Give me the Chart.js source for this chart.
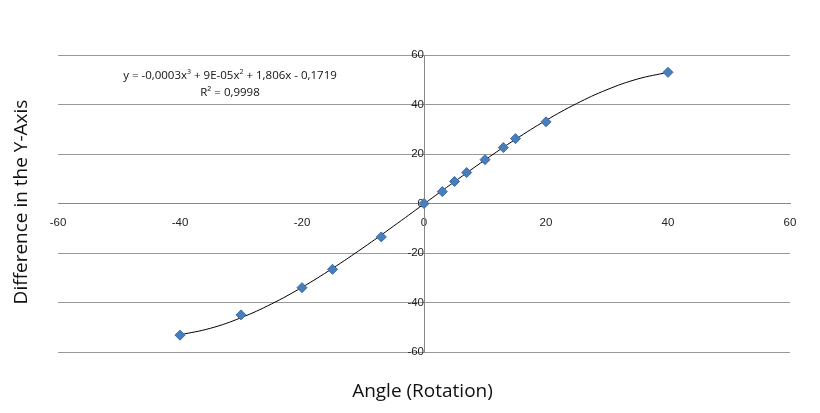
<!DOCTYPE html>
<html><head><meta charset="utf-8">
<script src="https://cdn.jsdelivr.net/npm/chart.js@4"></script>
<style>
body{margin:0;background:#fff;font-family:"Open Sans",Calibri,sans-serif}
#w{position:relative;width:820px;height:413px}
.t{position:absolute;color:#111}
</style></head><body>
<div id="w"><canvas id="c" width="820" height="413"></canvas>
<div class="t" style="left:0;top:0;width:40px;height:413px;"><div style="position:absolute;left:20px;top:202px;transform:translate(-50%,-50%) rotate(-90deg);white-space:nowrap;font-size:19px">Difference in the Y-Axis</div></div>
<div class="t" style="left:0;width:820px;top:377px;text-align:center;font-size:19px;padding-left:25px;box-sizing:border-box">Angle (Rotation)</div>
<div class="t" style="left:95px;width:270px;top:63px;text-align:center;font-size:11.5px;line-height:17px">y = -0,0003x<sup style="font-size:7px">3</sup> + 9E-05x<sup style="font-size:7px">2</sup> + 1,806x - 0,1719<br>R² = 0,9998</div>
</div>
<script>
const angles=[-40,-30,-20,-15,-7,0,3,5,7,10,13,15,20,40];
const diffs=[-53.2,-45,-34,-26.6,-13.5,0,4.8,8.9,12.5,17.7,22.6,26.2,33,53];
const trendX=[-40,-35,-30,-25,-20,-15,-10,-5,0,5,10,15,20,25,30,35,40];
const trendY=[-53.07,-50.41,-46.17,-40.58,-33.86,-26.23,-17.92,-9.16,-0.17,8.82,17.6,25.93,33.58,40.35,45.99,50.29,53.01];
const xTicks=[-60,-40,-20,0,20,40,60];
const yTicks=[-60,-40,-20,0,20,40,60];
new Chart(document.getElementById('c'),{
 type:'scatter',
 data:{datasets:[
  {data:angles.map((x,i)=>({x,y:diffs[i]})),pointStyle:'rectRot',pointRadius:5,backgroundColor:'#4a7ebb',borderColor:'#3a6aa5',borderWidth:1},
  {data:trendX.map((x,i)=>({x,y:trendY[i]})),showLine:true,pointRadius:0,borderColor:'#000',borderWidth:1,tension:0.4,fill:false}
 ]},
 options:{responsive:false,animation:false,
  layout:{padding:{left:58,right:30,top:55,bottom:61}},
  plugins:{legend:{display:false},tooltip:{enabled:false}},
  scales:{
   x:{type:'linear',min:-60,max:60,position:{y:0},
     afterBuildTicks:a=>{a.ticks=xTicks.map(v=>({value:v}))},
     grid:{display:false},border:{color:'#888'},
     ticks:{color:'#222',font:{size:11.5},padding:4}},
   y:{type:'linear',min:-60,max:60,position:{x:0},
     afterBuildTicks:a=>{a.ticks=yTicks.map(v=>({value:v}))},
     grid:{color:'#999',drawTicks:true,tickLength:4},border:{color:'#888'},
     ticks:{color:'#222',font:{size:11.5},padding:2}}
  }}
});
</script></body></html>
